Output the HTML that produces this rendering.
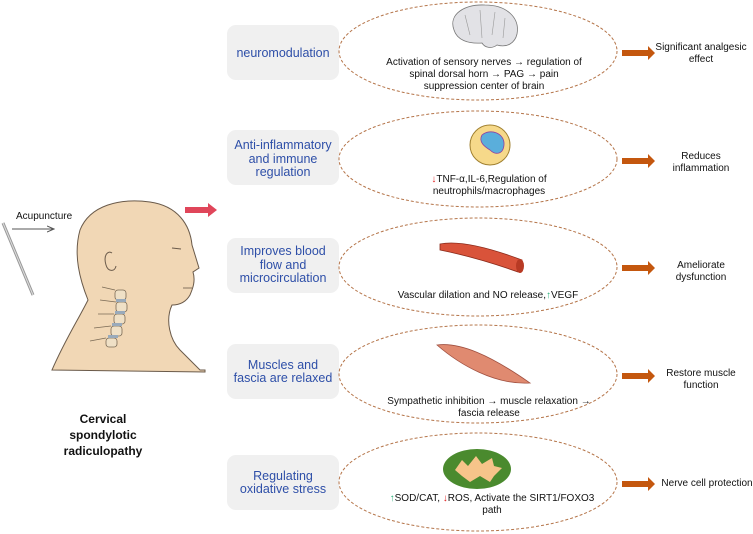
<!DOCTYPE html>
<html><head><style>
body{margin:0;background:#fff;}
svg{display:block;font-family:"Liberation Sans",sans-serif;}
</style></head><body>
<svg width="753" height="534" viewBox="0 0 753 534">
<defs>
<marker id="ga" markerWidth="8" markerHeight="8" refX="7" refY="4" orient="auto"><path d="M0,1 L7,4 L0,7" fill="none" stroke="#555" stroke-width="1"/></marker>
</defs>
<line x1="3" y1="223" x2="33" y2="295" stroke="#999" stroke-width="3"/>
<line x1="3" y1="223" x2="33" y2="295" stroke="#ddd" stroke-width="1"/>
<text x="16" y="219" font-size="10" fill="#111">Acupuncture</text>
<line x1="12" y1="229" x2="54" y2="229" stroke="#555" stroke-width="1" marker-end="url(#ga)"/>
<path d="M52,370 C65,340 78,320 88,300 C80,280 73,255 80,230 C90,205 120,198 150,202 C178,206 190,225 192,245 L199,268 L193,272 C196,282 192,290 190,295 C186,302 180,305 172,305 C165,320 170,340 180,350 L200,370 L205,370 L205,372 Z" fill="#f1d7b5" stroke="#6a5a4a" stroke-width="1"/>
<path d="M112,253 C108,250 103,255 106,265 C108,272 115,272 116,266" fill="none" stroke="#6a5a4a" stroke-width="1"/>
<path d="M172,248 L181,249" stroke="#6a5a4a" stroke-width="1"/>
<path d="M183,288 L192,288" stroke="#6a5a4a" stroke-width="0.8"/>
<g fill="#efe0c6" stroke="#7a6a55" stroke-width="0.8">
<rect x="115" y="290" width="11" height="10" rx="3"/>
<rect x="116" y="302" width="11" height="10" rx="3"/>
<rect x="114" y="314" width="11" height="10" rx="3"/>
<rect x="111" y="326" width="11" height="10" rx="3"/>
<rect x="106" y="338" width="11" height="9" rx="3"/>
<path d="M115,290 L102,287 M116,302 L100,300 M114,314 L98,314 M111,326 L94,328 M106,338 L90,341" fill="none"/>
</g>
<g fill="#9ab"><rect x="116" y="299" width="10" height="3"/><rect x="115" y="311" width="10" height="3"/><rect x="112" y="323" width="10" height="3"/><rect x="108" y="335" width="10" height="3"/></g>
<text x="103" y="423" font-size="12" font-weight="bold" text-anchor="middle" fill="#111">Cervical</text>
<text x="103" y="439" font-size="12" font-weight="bold" text-anchor="middle" fill="#111">spondylotic</text>
<text x="103" y="455" font-size="12" font-weight="bold" text-anchor="middle" fill="#111">radiculopathy</text>
<path d="M185,207 L208,207 L208,203 L217,210 L208,217 L208,213 L185,213 Z" fill="#e0465a"/>
<g fill="#f0f0f0">
<rect x="227" y="25" width="112" height="55" rx="9"/>
<rect x="227" y="130" width="112" height="55" rx="9"/>
<rect x="227" y="238" width="112" height="55" rx="9"/>
<rect x="227" y="344" width="112" height="55" rx="9"/>
<rect x="227" y="455" width="112" height="55" rx="9"/>
</g>
<g font-size="12.5" fill="#2e4fa8" text-anchor="middle">
<text x="283" y="57">neuromodulation</text>
<text x="283" y="149">Anti-inflammatory</text><text x="283" y="163">and immune</text><text x="283" y="176">regulation</text>
<text x="283" y="255">Improves blood</text><text x="283" y="269">flow and</text><text x="283" y="282">microcirculation</text>
<text x="283" y="369">Muscles and</text><text x="283" y="382">fascia are relaxed</text>
<text x="283" y="480">Regulating</text><text x="283" y="493">oxidative stress</text>
</g>
<g fill="none" stroke="#b5754a" stroke-width="1" stroke-dasharray="3,2">
<ellipse cx="478" cy="51" rx="139" ry="49"/>
<ellipse cx="478" cy="159" rx="139" ry="48"/>
<ellipse cx="478" cy="267" rx="139" ry="49"/>
<ellipse cx="478" cy="374" rx="139" ry="49"/>
<ellipse cx="478" cy="482" rx="139" ry="49"/>
</g>
<path d="M454,30 C448,14 465,4 485,5 C507,5 520,18 517,34 C515,43 507,48 497,45 C492,49 485,48 482,43 C468,44 457,40 454,30 Z" fill="#e2e2e6" stroke="#777" stroke-width="0.8"/>
<path d="M465,15 L470,35 M480,10 L482,38 M495,12 L492,35 M505,18 L503,38" stroke="#999" stroke-width="0.6" fill="none"/>
<ellipse cx="490" cy="145" rx="20" ry="20" fill="#f6d98a" stroke="#a08030" stroke-width="1"/>
<path d="M482,135 C490,128 505,133 504,145 C503,155 495,155 490,150 C485,147 478,142 482,135 Z" fill="#5aaedb" stroke="#9040a0" stroke-width="0.8"/>
<path d="M440,244 C460,240 490,248 522,260 L518,272 C490,262 460,254 440,250 Z" fill="#d9533a" stroke="#8a2a1a" stroke-width="0.8"/>
<ellipse cx="520" cy="266" rx="4" ry="7" fill="#b83a24"/>
<path d="M437,345 C460,342 490,355 530,383 C495,385 460,365 437,345 Z" fill="#e08a70" stroke="#a05040" stroke-width="0.8"/>
<ellipse cx="477" cy="469" rx="34" ry="20" fill="#4a8a2e"/>
<path d="M455,470 L462,460 L468,466 L476,456 L482,464 L492,458 L494,466 L502,468 L494,476 L490,482 L480,476 L470,482 L462,476 Z" fill="#f7c48a"/>
<g font-size="10" fill="#111" text-anchor="middle">
<text x="484" y="65">Activation of sensory nerves → regulation of</text>
<text x="484" y="77">spinal dorsal horn → PAG → pain</text>
<text x="484" y="89">suppression center of brain</text>
<text x="489" y="182"><tspan fill="#e02020">↓</tspan>TNF-α,IL-6,Regulation of</text>
<text x="489" y="194">neutrophils/macrophages</text>
<text x="488" y="298">Vascular dilation and NO release,<tspan fill="#2ab07a">↑</tspan>VEGF</text>
<text x="489" y="404">Sympathetic inhibition → muscle relaxation →</text>
<text x="489" y="416">fascia release</text>
<text x="492" y="501"><tspan fill="#2ab07a">↑</tspan>SOD/CAT, <tspan fill="#e02020">↓</tspan>ROS,  Activate the SIRT1/FOXO3</text>
<text x="492" y="513">path</text>
</g>
<g fill="#c4570e">
<path d="M622,50 L648,50 L648,46 L655,53 L648,60 L648,56 L622,56 Z"/>
<path d="M622,158 L648,158 L648,154 L655,161 L648,168 L648,164 L622,164 Z"/>
<path d="M622,265 L648,265 L648,261 L655,268 L648,275 L648,271 L622,271 Z"/>
<path d="M622,373 L648,373 L648,369 L655,376 L648,383 L648,379 L622,379 Z"/>
<path d="M622,481 L648,481 L648,477 L655,484 L648,491 L648,487 L622,487 Z"/>
</g>
<g font-size="10" fill="#111" text-anchor="middle">
<text x="701" y="50">Significant analgesic</text><text x="701" y="62">effect</text>
<text x="701" y="159">Reduces</text><text x="701" y="171">inflammation</text>
<text x="701" y="268">Ameliorate</text><text x="701" y="280">dysfunction</text>
<text x="701" y="376">Restore muscle</text><text x="701" y="388">function</text>
<text x="707" y="486">Nerve cell protection</text>
</g>
</svg>
</body></html>
